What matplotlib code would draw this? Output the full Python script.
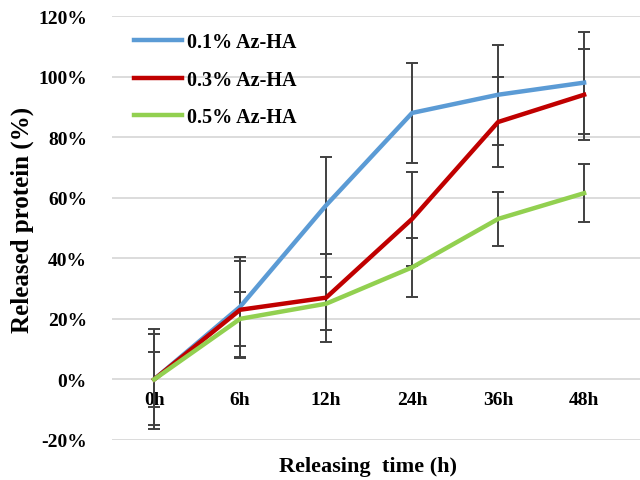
import matplotlib
matplotlib.use("Agg")
import matplotlib.pyplot as plt
import numpy as np
from matplotlib.ticker import FuncFormatter
from matplotlib.lines import Line2D

categories = ["0h", "6h", "12h", "24h", "36h", "48h"]
series_names = ["0.1% Az-HA", "0.3% Az-HA", "0.5% Az-HA"]
blue_vals = [0, 24, 57.5, 88, 94, 98]
red_vals = [0, 23, 27, 53, 85, 94]
green_vals = [0, 20, 25, 37, 53, 61.5]
blue_err = [16.5, 16.5, 16, 16.5, 16.5, 16.8]
red_err = [15, 16, 14.5, 15.4, 15, 15]
green_err = [9, 9, 8.7, 9.7, 9, 9.5]
colors = ["#5B9BD5", "#C00000", "#92D050"]

plt.rcParams['font.family'] = ['Liberation Serif', 'DejaVu Serif']
plt.rcParams['font.weight'] = 'bold'

fig = plt.figure(figsize=(6.4, 4.81), dpi=100)
ax = fig.add_axes([112/640, 1-441/481, 1-112/640, (441-17)/481])

x = np.arange(len(categories))
for vals, errs, c, name in zip([blue_vals, red_vals, green_vals],
                                [blue_err, red_err, green_err], colors, series_names):
    ax.errorbar(x, vals, yerr=errs, color=c, lw=3.2, ecolor="#404040",
                elinewidth=1.4, capsize=4, capthick=1.4, label=name, zorder=3)

ax.set_ylim(-20, 120)
ax.set_xlim(-0.49, len(categories) - 0.35)
for s in ax.spines.values():
    s.set_visible(False)
ax.spines['bottom'].set_position(('data', 0))
ax.set_yticks(np.arange(-20, 121, 20))
ax.yaxis.set_major_formatter(FuncFormatter(lambda v, p: f"{int(round(v))}%"))
ax.grid(axis='y', color="#d9d9d9", lw=1.3, zorder=0)
ax.set_axisbelow(True)
ax.set_xticks(x)
ax.set_xticklabels(categories)
ax.tick_params(axis='y', length=0, labelsize=14, pad=18)
ax.tick_params(axis='x', length=0, labelsize=14, pad=8)
for lbl in ax.get_yticklabels() + ax.get_xticklabels():
    lbl.set_fontweight('bold')

fig.text(368/640, 1-467/481, "Releasing  time (h)", ha='center', va='center',
         fontsize=16, fontweight='bold')
fig.text(22/640, 1-220/481, "Released protein (%)", ha='center', va='center',
         rotation=90, fontsize=18, fontweight='bold')

hs = [Line2D([0], [0], color=c, lw=3.2) for c in colors]
leg = ax.legend(hs, series_names, loc='upper left', bbox_to_anchor=(0.008, 1.005),
                frameon=False, handlelength=2.35, handletextpad=0.25,
                labelspacing=0.88, prop={'weight': 'bold', 'size': 14.5})

fig.savefig("out.png", dpi=100)
